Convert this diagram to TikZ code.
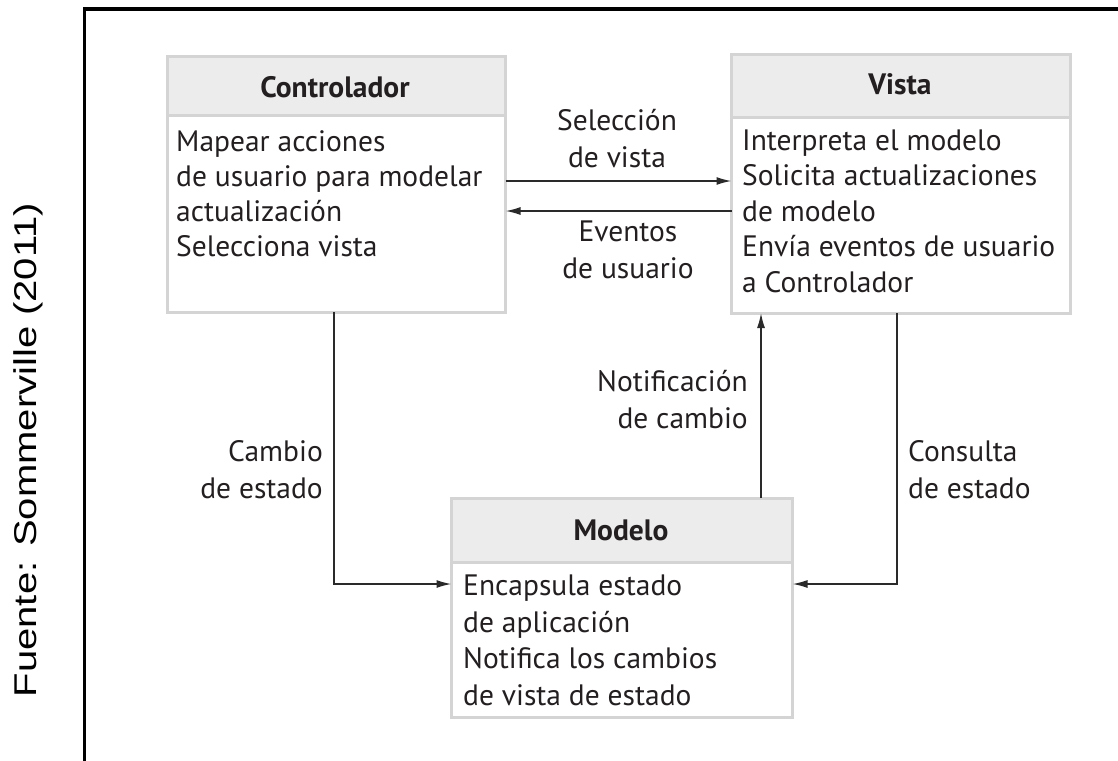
\documentclass[tikz,border=0pt]{standalone}
\usepackage{fontspec}
\setmainfont{PT Sans}
\newfontfamily\arialf{Liberation Sans}
\usetikzlibrary{arrows.meta}
\definecolor{boxgray}{HTML}{D4D4D4}
\definecolor{hdrgray}{HTML}{ECECEC}
\definecolor{txt}{HTML}{231F20}
\definecolor{linec}{HTML}{2A2A2A}
\newcommand{\bodyfont}{\fontsize{29.5}{35}\selectfont}
\newcommand{\modfont}{\fontsize{29.5}{36.5}\selectfont}
\newcommand{\lblfont}{\fontsize{29.5}{36.3}\selectfont}
\tikzset{
  hdr/.style={draw=boxgray, line width=3pt, fill=hdrgray, anchor=north west, inner sep=0pt, outer sep=0pt},
  hdrtxt/.style={anchor=base, inner sep=0pt, text=txt, font=\bfseries\bodyfont},
  bodybox/.style={draw=boxgray, line width=3pt, fill=white, anchor=north west, inner sep=0pt, outer sep=0pt},
  bodytxt/.style={anchor=base west, align=left, inner sep=0pt, text=txt, font=\bodyfont},
  lblc/.style={anchor=base, align=center, inner sep=0pt, text=txt, font=\lblfont},
  lblr/.style={anchor=base east, align=right, inner sep=0pt, text=txt, font=\lblfont},
  lbll/.style={anchor=base west, align=left, inner sep=0pt, text=txt, font=\lblfont},
  conn/.style={line width=1.6pt, draw=linec, -{Latex[length=15pt,width=8pt]}}
}
\begin{document}
\begin{tikzpicture}[x=1pt,y=-1pt]
\useasboundingbox (0,0) rectangle (1118,760);
% outer frame (left and top edges)
\coordinate (frTL) at (84.5,9);
\coordinate (frBL) at (84.5,765);
\coordinate (frTR) at (1125,9);
\draw[line width=3.5pt, black] (frBL) -- (frTL) -- (frTR);
% source note
\node[rotate=90, inner sep=0pt, font=\arialf\fontsize{31.5}{38}\selectfont, text=black] (src) at (28,450) {\scalebox{1.27}[1]{Fuente: Sommerville (2011)}};
% Controlador
\node[bodybox, minimum width=338pt, minimum height=197pt] (ctrlb) at (167.5,115) {};
\node[hdr, minimum width=338pt, minimum height=58pt] (ctrlh) at (167.5,57) {};
\node[hdrtxt] (ctrlt) at (335,97) {Controlador};
\node[bodytxt] (ctrlx) at (176,256) {Mapear acciones\\de usuario para modelar\\actualización\\Selecciona vista};
% Vista
\node[bodybox, minimum width=339pt, minimum height=196pt] (vistab) at (731.5,117) {};
\node[hdr, minimum width=339pt, minimum height=62pt] (vistah) at (731.5,55) {};
\node[hdrtxt] (vistat) at (900,94) {Vista};
\node[bodytxt, font=\fontsize{29.5}{35.4}\selectfont] (vistax) at (742,292) {Interpreta el modelo\\Solicita actualizaciones\\de modelo\\Envía eventos de usuario\\a Controlador};
% Modelo
\node[bodybox, minimum width=341pt, minimum height=155pt] (modb) at (451.5,562) {};
\node[hdr, minimum width=341pt, minimum height=64pt] (modh) at (451.5,498) {};
\node[hdrtxt] (modt) at (621,540) {Modelo};
\node[bodytxt, font=\modfont] (modx) at (463,705) {Encapsula estado\\de aplicación\\Notifica los cambios\\de vista de estado};
% connector labels
\node[lblc] (lsel) at (617,167) {Selección\\de vista};
\node[lblc] (lev) at (628,278) {Eventos\\de usuario};
\node[lblr] (lnot) at (748,428) {Notificación\\de cambio};
\node[lblr] (lcam) at (323,498) {Cambio\\de estado};
\node[lbll] (lcon) at (908,498) {Consulta\\de estado};
% helper coordinates
\coordinate (cSel) at (600,181);
\coordinate (cEv) at (600,211);
\coordinate (cL) at (334,584);
\coordinate (cR) at (897,584);
\coordinate (cN) at (761,400);
% connectors
\draw[conn] (ctrlb.east |- cSel) -- (vistab.west |- cSel);
\draw[conn] (vistab.west |- cEv) -- (ctrlb.east |- cEv);
\draw[conn] (ctrlb.south -| cL) |- (modb.west |- cL);
\draw[conn] (vistab.south -| cR) |- (modb.east |- cR);
\draw[conn] (modh.north -| cN) -- (vistab.south -| cN);
\end{tikzpicture}
\end{document}
